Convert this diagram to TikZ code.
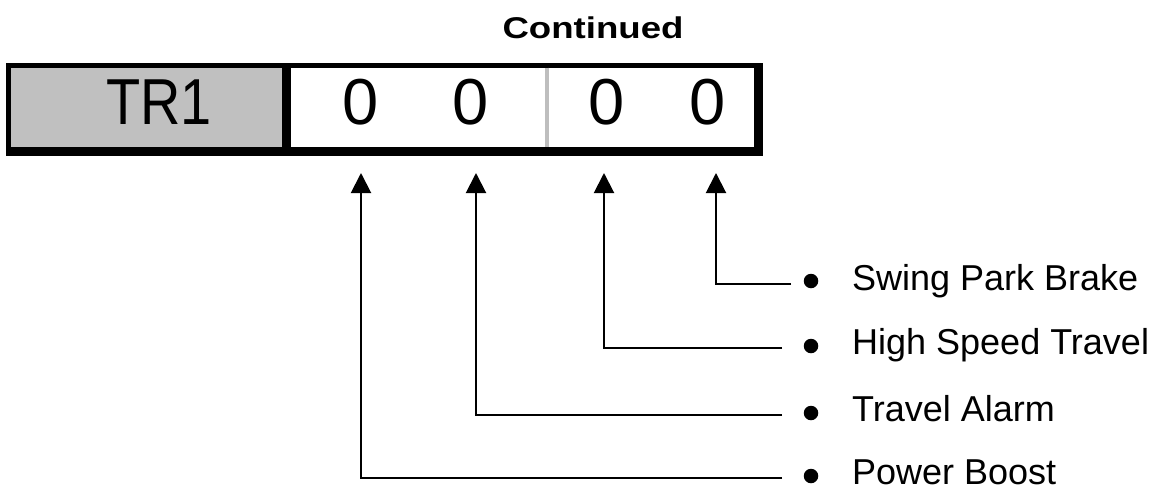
\documentclass[tikz,border=0pt]{standalone}
\usepackage{fontspec}
\setmainfont{Liberation Sans}
\usetikzlibrary{arrows.meta}
\definecolor{cellgray}{RGB}{192,192,192}
\definecolor{sepgray}{RGB}{190,190,190}
\tikzset{
 conn/.style={line width=2pt, -{Triangle[width=20pt,length=20pt]}},
 big/.style={font=\fontsize{65}{65}\selectfont, inner sep=0pt, anchor=base},
 lbl/.style={font=\fontsize{36}{36}\selectfont, inner sep=0pt, anchor=base west},
 bdot/.style={circle, fill=black, inner sep=0pt, minimum size=14.5pt},
 cell/.style={inner sep=0pt, minimum height=79.5pt},
}
\begin{document}
\begin{tikzpicture}[x=1pt,y=-1pt]
\useasboundingbox (0,0) rectangle (1165,496);
% frame
\fill[black] (6,63) rectangle (763,156);
\node[cell, fill=cellgray, minimum width=271pt] (trcell) at (146.5,107.25) {};
\node[cell, fill=white, minimum width=463pt] (bitcell) at (522.5,107.25) {};
\draw[sepgray, line width=4pt] (546.5,67.5) -- (546.5,147);
% texts
\node[font=\bfseries\fontsize{30}{30}\selectfont, anchor=base, inner sep=0pt] (title) at (593,38) {\scalebox{1.22}[1]{Continued}};
\node[big] (trtext) at (159,124.5) {\scalebox{0.86}[1]{TR1}};
\node[big] (z1) at (361,124.5) {0};
\node[big] (z2) at (471,124.5) {0};
\node[big] (z3) at (607,124.5) {0};
\node[big] (z4) at (708,124.5) {0};
% arrow tips
\coordinate (t1) at (361,173);
\coordinate (t2) at (476,173);
\coordinate (t3) at (604,173);
\coordinate (t4) at (716,173);
% labels
\coordinate (e1) at (791,284.3);
\node[bdot] (d1) at (811,281) {};
\node[lbl] (l1) at (852,290.5) {Swing Park Brake};
\coordinate (e2) at (782,348.3);
\node[bdot] (d2) at (811,346) {};
\node[lbl] (l2) at (852,354.5) {High Speed Travel};
\coordinate (e3) at (782,415.3);
\node[bdot] (d3) at (811,413) {};
\node[lbl] (l3) at (852,421.5) {Travel Alarm};
\coordinate (e4) at (782,478.3);
\node[bdot] (d4) at (811,476) {};
\node[lbl] (l4) at (852,484.5) {Power Boost};
% connectors
\draw[conn] (e1) -| (t4);
\draw[conn] (e2) -| (t3);
\draw[conn] (e3) -| (t2);
\draw[conn] (e4) -| (t1);
\end{tikzpicture}
\end{document}
